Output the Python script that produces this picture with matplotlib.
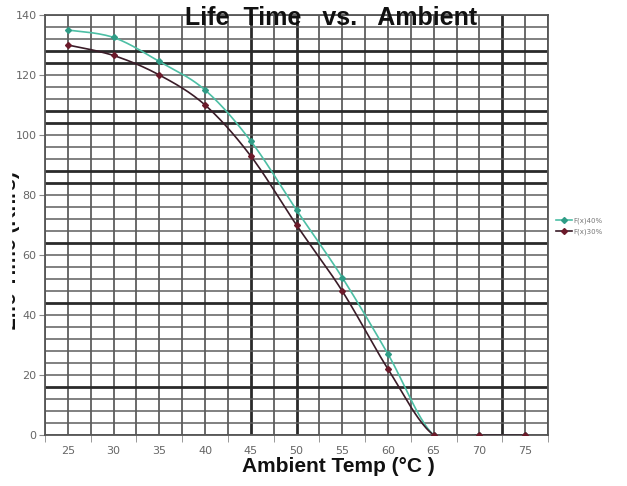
import matplotlib.pyplot as plt
from matplotlib.patches import Rectangle
import numpy as np

# data
temps = ['25', '30', '35', '40', '45', '50', '55', '60', '65', '70', '75']
life_40 = [135, 132.5, 124.5, 115, 98, 75, 52.5, 27, 0, 0, 0]
life_30 = [130, 126.5, 120, 110, 93, 70, 48, 22, 0, 0, 0]
legend_names = ['F(x)40%', 'F(x)30%']

# gridline values that look heavier in the scan
heavy_y = [16, 44, 64, 84, 88, 104, 108, 124, 128]
heavy_x = [4, 5, 9.5]


def smooth(xs, ys, n=24):
    # Catmull-Rom curve, like Excel's smoothed line
    pts = np.column_stack([xs, ys]).astype(float)
    pad = np.vstack([pts[0], pts, pts[-1]])
    out = []
    t = np.linspace(0, 1, n, endpoint=False)[:, None]
    for i in range(len(pts) - 1):
        p0, p1, p2, p3 = pad[i:i + 4]
        c = 0.5 * (2 * p1 + (-p0 + p2) * t + (2 * p0 - 5 * p1 + 4 * p2 - p3) * t ** 2
                   + (-p0 + 3 * p1 - 3 * p2 + p3) * t ** 3)
        out.append(c)
    out.append(pts[-1:])
    return np.vstack(out)


fig = plt.figure(figsize=(6.27, 4.86), dpi=100)
ax = fig.add_axes([45 / 627, 1 - 435 / 486, 503 / 627, 420 / 486])

x = np.arange(len(temps))
ax.set_xlim(-0.5, len(temps) - 0.5)
ax.set_ylim(0, 140)

# grid
for gx in np.arange(-0.5, len(temps), 0.5):
    heavy = gx in heavy_x
    ax.axvline(gx, color='#2a2a2a' if heavy else '#5e5e5e', lw=2.0 if heavy else 1.3, zorder=1)
for gy in range(0, 141, 4):
    heavy = gy in heavy_y
    ax.axhline(gy, color='#2a2a2a' if heavy else '#5e5e5e', lw=2.0 if heavy else 1.1, zorder=1)

colors = ['#4dbfa5', '#3a1c28']
mcolors = ['#2f9c86', '#6b1a2a']
for vals, c, mc, name in zip([life_40, life_30], colors, mcolors, legend_names):
    s = smooth(x, vals)
    ax.plot(s[:, 0], s[:, 1], color=c, lw=1.2, zorder=3)
    ax.plot(x, vals, ls='none', marker='D', ms=3, color=mc, zorder=4)

ax.set_xticks(x)
ax.set_xticklabels(temps)
ax.set_xticks(np.arange(-0.5, len(temps), 1), minor=True)
ax.tick_params(axis='x', which='major', length=0, labelsize=8, labelcolor='#666666', pad=8)
ax.tick_params(axis='x', which='minor', length=5, color='#888888')
ax.set_yticks(range(0, 141, 20))
ax.tick_params(axis='y', length=4, labelsize=8, labelcolor='#666666', color='#888888', pad=2)
for sp in ax.spines.values():
    sp.set_color('#555555')
    sp.set_linewidth(1.3)

fig.text(331 / 627, 1 - 18 / 486, 'Life  Time   vs.   Ambient', ha='center', va='center',
         fontsize=18, fontweight='bold', family='Liberation Sans', color='#111111')
fig.text(338 / 627, 1 - 466 / 486, 'Ambient Temp (°C )', ha='center', va='center',
         fontsize=15, fontweight='bold', family='Liberation Sans', color='#111111')
fig.text(20 / 627, 1 - 251 / 486, 'Life Time (Khrs)', ha='right', va='center', rotation=90,
         fontsize=15, fontweight='bold', family='Liberation Sans', color='#111111')
# the scan cuts off the left half of the y title
fig.add_artist(Rectangle((0, 0), 11 / 627, 1, transform=fig.transFigure,
                         color='white', zorder=10))

handles = [plt.Line2D([], [], color=c, marker='D', ms=3, mfc=mc, mec=mc, lw=1.2)
           for c, mc in zip(colors, mcolors)]
fig.legend(handles, legend_names, loc='center left', bbox_to_anchor=(550 / 627, 1 - 226 / 486),
           frameon=False, fontsize=5, labelcolor='#777777', handlelength=2.2,
           handletextpad=0.3, labelspacing=0.6)

fig.savefig('out.png', dpi=100)
